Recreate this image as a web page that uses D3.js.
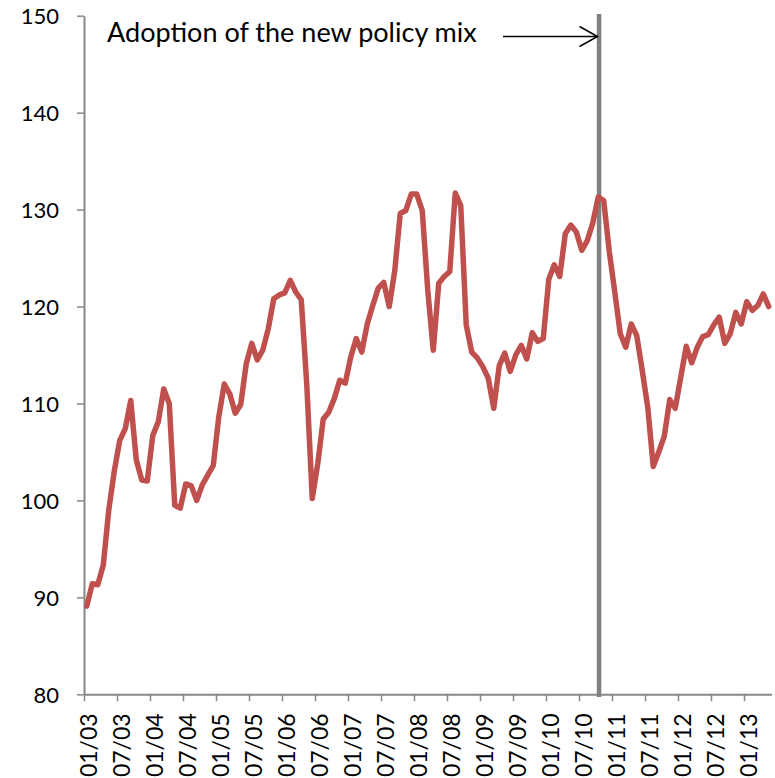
<!DOCTYPE html>
<html>
<head>
<meta charset="utf-8">
<script src="https://cdn.jsdelivr.net/npm/d3@7"></script>
<style>
  html, body { margin: 0; padding: 0; background: #ffffff; }
  svg { display: block; }
</style>
</head>
<body>
<svg id="chart" width="775" height="778"></svg>
<script>
// Monthly index values, January 2003 to May 2013
const firstYear = 2003;
const values = [
  89.1, 91.4, 91.3, 93.3, 99.0, 103.0, 106.2, 107.4, 110.3, 104.2, 102.1, 102.0,
  106.7, 108.1, 111.5, 110.0, 99.5, 99.2, 101.7, 101.5, 100.0, 101.6, 102.6, 103.6,
  108.6, 112.0, 111.0, 109.0, 109.9, 114.1, 116.2, 114.5, 115.5, 117.7, 120.8, 121.2,
  121.4, 122.7, 121.5, 120.7, 112.0, 100.2, 103.8, 108.4, 109.1, 110.5, 112.4, 112.1,
  114.8, 116.7, 115.3, 118.2, 120.1, 121.9, 122.5, 120.0, 123.7, 129.6, 129.9, 131.6,
  131.6, 129.9, 121.7, 115.5, 122.4, 123.1, 123.6, 131.7, 130.4, 118.1, 115.3, 114.7,
  113.8, 112.6, 109.5, 113.9, 115.2, 113.3, 115.0, 116.0, 114.6, 117.3, 116.4, 116.7,
  122.8, 124.3, 123.1, 127.5, 128.4, 127.7, 125.8, 126.8, 128.6, 131.3, 130.9, 125.7,
  121.5, 117.2, 115.8, 118.2, 117.0, 113.4, 109.6, 103.5, 105.0, 106.6, 110.4, 109.5,
  112.7, 115.9, 114.2, 115.8, 116.9, 117.1, 118.1, 118.9, 116.2, 117.2, 119.4, 118.2,
  120.5, 119.6, 120.1, 121.3, 120.0
];

const yTicks = [80, 90, 100, 110, 120, 130, 140, 150];
const xTickLabels = [
  "01/03", "07/03", "01/04", "07/04", "01/05", "07/05", "01/06", "07/06",
  "01/07", "07/07", "01/08", "07/08", "01/09", "07/09", "01/10", "07/10",
  "01/11", "07/11", "01/12", "07/12", "01/13"
];

const annotationText = "Adoption of the new policy mix";
const policyDate = "2010-10-21";

// ---- helpers ----
// months elapsed since 1 Jan of the first year
function monthsFromLabel(lbl) {
  const [mm, yy] = lbl.split("/").map(Number);
  return (2000 + yy - firstYear) * 12 + (mm - 1);
}
function monthsFromDate(str) {
  const d = new Date(str + "T00:00:00");
  const dim = new Date(d.getFullYear(), d.getMonth() + 1, 0).getDate();
  return (d.getFullYear() - firstYear) * 12 + d.getMonth() + (d.getDate() - 1) / dim;
}

const svg = d3.select("#chart");
const FONT = "Lato, 'Open Sans', sans-serif";
const AXIS_COLOR = "#878787";

const plot = { left: 84, right: 771.5, top: 15.7, bottom: 694.3 };

const x = d3.scaleLinear()
  .domain([0, values.length])
  .range([plot.left, plot.right]);

const y = d3.scaleLinear()
  .domain([d3.min(yTicks), d3.max(yTicks)])
  .range([plot.bottom, plot.top]);

// series: each monthly observation sits mid-month
const series = values.map((v, i) => ({ m: i + 0.5, v }));

// ---- axes ----
const yAxis = d3.axisLeft(y)
  .tickValues(yTicks)
  .tickSize(7)
  .tickSizeOuter(0)
  .tickPadding(18)
  .tickFormat(d3.format("d"));

const gy = svg.append("g")
  .attr("transform", `translate(${plot.left},0)`)
  .call(yAxis);

gy.selectAll("text")
  .attr("font-family", FONT)
  .attr("font-size", 22)
  .attr("fill", "#000")
  .attr("dy", "0.36em");

const xAxis = d3.axisBottom(x)
  .tickValues(xTickLabels.map(monthsFromLabel))
  .tickSize(7)
  .tickSizeOuter(0)
  .tickFormat((d, i) => xTickLabels[i]);

const gx = svg.append("g")
  .attr("transform", `translate(0,${plot.bottom})`)
  .call(xAxis);

gx.selectAll("text")
  .attr("font-family", FONT)
  .attr("font-size", 23)
  .attr("fill", "#000")
  .attr("transform", "rotate(-90)")
  .attr("text-anchor", "end")
  .attr("x", -19)
  .attr("y", 4.5)
  .attr("dy", "0.36em");

[gx, gy].forEach(g => {
  g.select(".domain").attr("stroke", AXIS_COLOR).attr("stroke-width", 2);
  g.selectAll(".tick line").attr("stroke", AXIS_COLOR).attr("stroke-width", 1.5);
});

// ---- policy marker ----
const markerX = x(monthsFromDate(policyDate));
svg.append("line")
  .attr("x1", markerX).attr("x2", markerX)
  .attr("y1", 14).attr("y2", 697)
  .attr("stroke", "#808080")
  .attr("stroke-width", 4.5);

// ---- series line ----
const line = d3.line()
  .x(d => x(d.m))
  .y(d => y(d.v));

svg.append("path")
  .datum(series)
  .attr("fill", "none")
  .attr("stroke", "#C0504D")
  .attr("stroke-width", 5.5)
  .attr("stroke-linejoin", "round")
  .attr("stroke-linecap", "round")
  .attr("d", line);

// ---- annotation ----
const label = svg.append("text")
  .attr("x", 107)
  .attr("y", 42)
  .attr("font-family", FONT)
  .attr("font-size", 22)
  .attr("fill", "#000")
  .text(annotationText);

// size the annotation to span its slot
const targetWidth = 370;
const w = label.node().getComputedTextLength();
if (w > 0) label.attr("font-size", 22 * targetWidth / w);

const arrowY = 36.5;
const tipX = markerX - 1.5;
const g = svg.append("g")
  .attr("stroke", "#000")
  .attr("stroke-width", 1.5)
  .attr("fill", "none");
g.append("line")
  .attr("x1", 503).attr("x2", tipX)
  .attr("y1", arrowY).attr("y2", arrowY);
g.append("path")
  .attr("d", `M${tipX - 18},${arrowY - 10} L${tipX},${arrowY} L${tipX - 18},${arrowY + 10}`);
</script>
</body>
</html>
